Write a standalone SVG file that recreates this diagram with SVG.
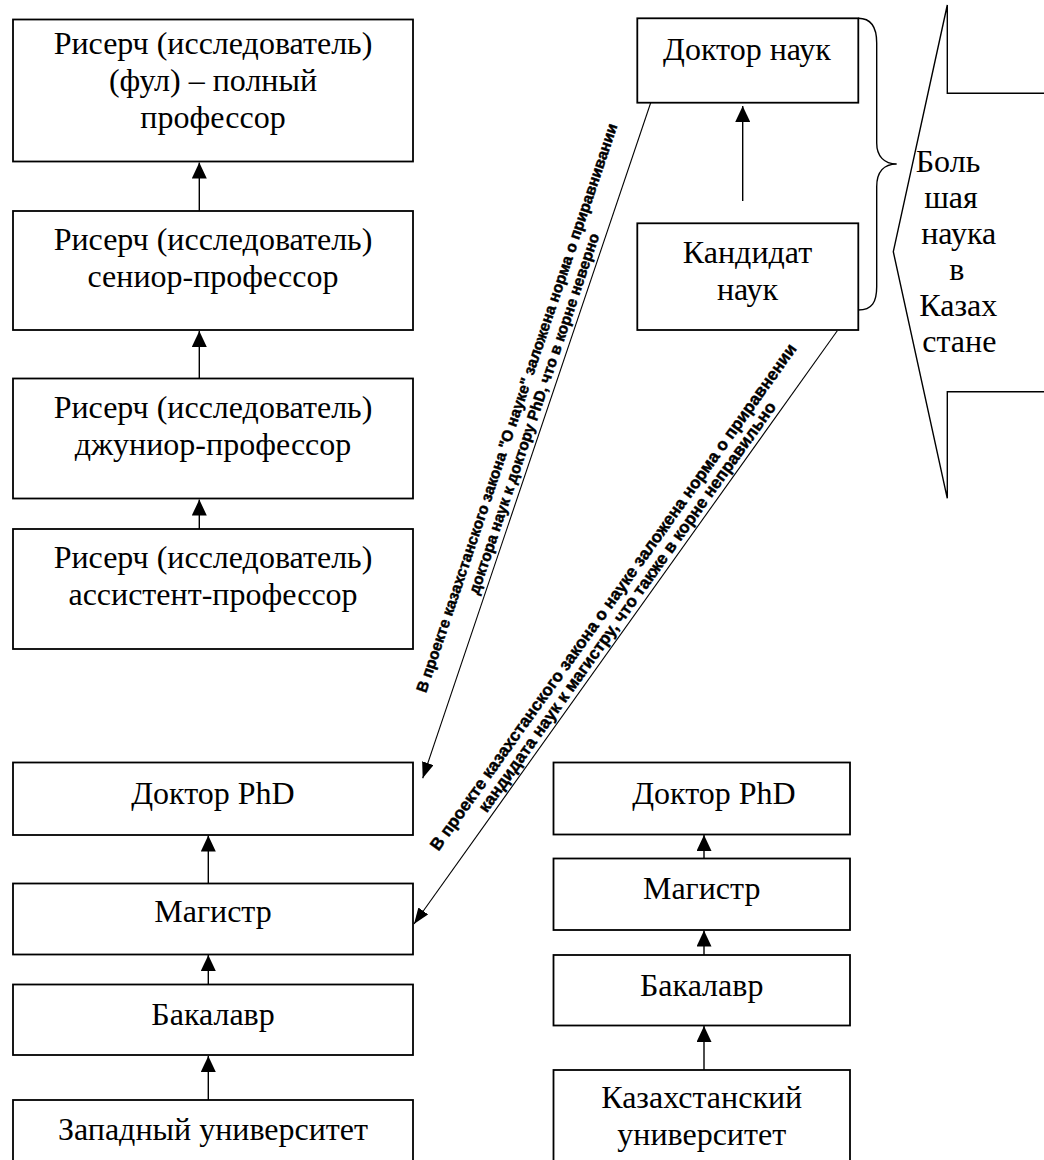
<svg xmlns="http://www.w3.org/2000/svg" width="1044" height="1160" viewBox="0 0 1044 1160">
<defs>
<style>
.box{fill:#fff;stroke:#000;stroke-width:1.8}
.t{font-family:"Liberation Serif","Times New Roman",serif;font-size:32px;fill:#000;text-anchor:middle}
.c{fill:none;stroke:#000;stroke-width:1.4}
.d{fill:none;stroke:#000;stroke-width:1.1}
.n{font-family:"Liberation Sans",Arial,sans-serif;font-weight:bold;fill:#000;stroke:#000;stroke-width:0.45;text-anchor:middle}
</style>
<marker id="ah" markerUnits="userSpaceOnUse" markerWidth="16" markerHeight="15" refX="16" refY="7.5" orient="auto"><path d="M0,0 L16,7.5 L0,15 z" fill="#000"/></marker>
<marker id="ahs" markerUnits="userSpaceOnUse" markerWidth="16" markerHeight="12" refX="16" refY="6" orient="auto"><path d="M0,0 L16,6 L0,12 z" fill="#000"/></marker>
</defs>
<rect width="1044" height="1160" fill="#fff"/>

<g id="connectors">
<line class="c" x1="199.3" y1="210.7" x2="199.3" y2="162.5" marker-end="url(#ah)"/>
<line class="c" x1="199.3" y1="378.5" x2="199.3" y2="331" marker-end="url(#ah)"/>
<line class="c" x1="199.3" y1="529" x2="199.3" y2="499.5" marker-end="url(#ah)"/>
<line class="c" x1="208.3" y1="883.5" x2="208.3" y2="835.5" marker-end="url(#ah)"/>
<line class="c" x1="208.3" y1="984.5" x2="208.3" y2="955" marker-end="url(#ah)"/>
<line class="c" x1="208.3" y1="1100" x2="208.3" y2="1056" marker-end="url(#ah)"/>
<line class="c" x1="704" y1="858.5" x2="704" y2="835" marker-end="url(#ah)"/>
<line class="c" x1="704" y1="955" x2="704" y2="930.5" marker-end="url(#ah)"/>
<line class="c" x1="704" y1="1070" x2="704" y2="1026" marker-end="url(#ah)"/>
<line class="c" x1="742.7" y1="201" x2="742.7" y2="106" marker-end="url(#ah)"/>
<line class="d" x1="650.7" y1="102.7" x2="422.7" y2="778.3" marker-end="url(#ahs)"/>
<line class="d" x1="837.3" y1="330.7" x2="414" y2="924" marker-end="url(#ahs)"/>
<g id="label1" transform="translate(422.7,778.3) rotate(-71.35)">
<text class="n" font-size="15.5" x="381" y="-24">В проекте казахстанского закона "О науке" заложена норма о приравнивании</text>
<text class="n" font-size="15.5" x="381" y="-6">доктора наук к доктору PhD, что в корне неверно</text>
</g>
<g id="label2" transform="translate(414,924) rotate(-54.5)">
<text class="n" font-size="17" x="382" y="-22">В проекте казахстанского закона о науке заложена норма о приравнении</text>
<text class="n" font-size="17" x="382" y="-5">кандидата наук к магистру, что также в корне неправильно</text>
</g>
</g>

<g id="full-prof"><rect class="box" x="13" y="19.5" width="400" height="142"/>
<text class="t" x="213" y="53.5">Рисерч (исследователь)</text>
<text class="t" x="213" y="90.5">(фул) – полный</text>
<text class="t" x="213" y="128">профессор</text></g>

<g id="senior-prof"><rect class="box" x="13" y="211" width="400" height="119"/>
<text class="t" x="213" y="250">Рисерч (исследователь)</text>
<text class="t" x="213" y="287">сениор-профессор</text></g>

<g id="junior-prof"><rect class="box" x="13" y="378.5" width="400" height="120"/>
<text class="t" x="213" y="418.3">Рисерч (исследователь)</text>
<text class="t" x="213" y="455">джуниор-профессор</text></g>

<g id="assist-prof"><rect class="box" x="13" y="529" width="400" height="120"/>
<text class="t" x="213" y="568.3">Рисерч (исследователь)</text>
<text class="t" x="213" y="605">ассистент-профессор</text></g>

<g id="west-phd"><rect class="box" x="13" y="762.5" width="400" height="72.5"/>
<text class="t" x="213" y="804">Доктор PhD</text></g>
<g id="west-master"><rect class="box" x="13" y="883.5" width="400" height="71"/>
<text class="t" x="213" y="921.7">Магистр</text></g>
<g id="west-bachelor"><rect class="box" x="13" y="984.5" width="400" height="70.5"/>
<text class="t" x="213" y="1025">Бакалавр</text></g>
<g id="west-univ"><rect class="box" x="13" y="1100" width="400" height="80"/>
<text class="t" x="213" y="1140">Западный университет</text></g>

<g id="kz-phd"><rect class="box" x="553.5" y="762.5" width="296.5" height="72"/>
<text class="t" x="714" y="804">Доктор PhD</text></g>
<g id="kz-master"><rect class="box" x="553.5" y="858.5" width="296.5" height="71.5"/>
<text class="t" x="701.7" y="899.3">Магистр</text></g>
<g id="kz-bachelor"><rect class="box" x="553.5" y="955" width="296.5" height="70.5"/>
<text class="t" x="701.7" y="996">Бакалавр</text></g>
<g id="kz-univ"><rect class="box" x="553.5" y="1070" width="296.5" height="110"/>
<text class="t" x="701.7" y="1108.3">Казахстанский</text>
<text class="t" x="701.7" y="1145">университет</text></g>

<g id="doctor-nauk"><rect class="box" x="637.3" y="18.3" width="221" height="84.4"/>
<text class="t" x="747" y="59.5">Доктор наук</text></g>
<g id="kandidat-nauk"><rect class="box" x="637.3" y="223.3" width="221" height="106.7"/>
<text class="t" x="747.5" y="263.3">Кандидат</text>
<text class="t" x="747.5" y="300">наук</text></g>

<g id="brace"><path class="c" d="M858.3,18.3 C872,18.3 876.7,28 876.7,43 L876.7,143 C876.7,156 884,164 896.7,164 C884,164 876.7,172 876.7,186.7 L876.7,286.7 C876.7,302 872,310 858.3,310"/></g>

<g id="callout"><polyline class="c" points="1050,93.3 947.3,93.3 947.3,5 893.3,251.7 947.3,498.3 947.3,391.7 1050,391.7"/>
<text class="t" x="948" y="172.3">Боль</text>
<text class="t" x="951" y="208">шая</text>
<text class="t" x="958.7" y="244">наука</text>
<text class="t" x="956.7" y="280">в</text>
<text class="t" x="958.3" y="316">Казах</text>
<text class="t" x="959.3" y="351.7">стане</text></g>
</svg>
